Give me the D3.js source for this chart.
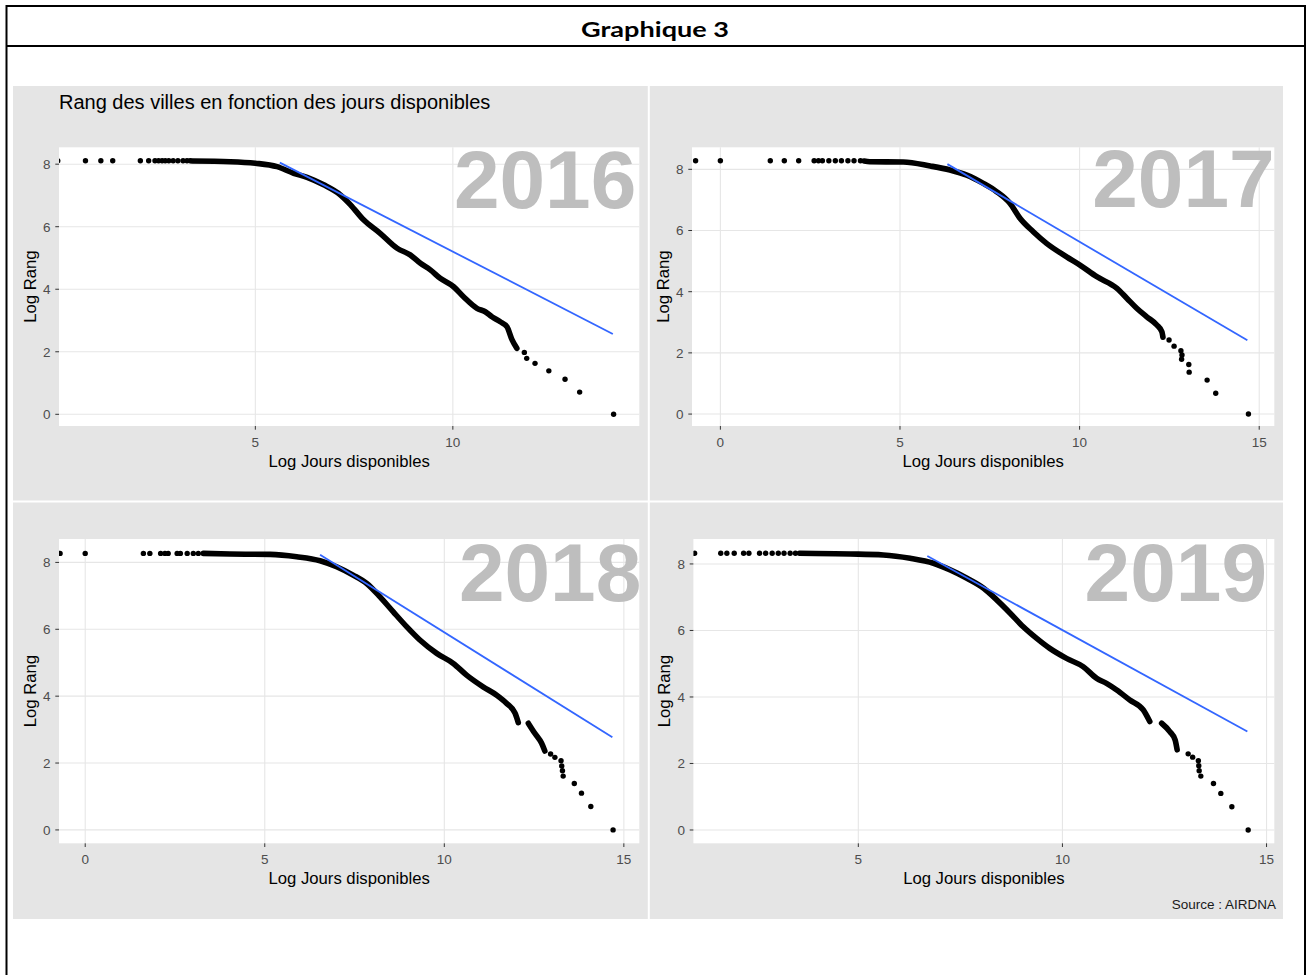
<!DOCTYPE html>
<html><head><meta charset="utf-8">
<script src="https://cdn.jsdelivr.net/npm/d3@7"></script>
<style>body{margin:0;background:#fff}svg{display:block}</style>
</head><body>
<svg id="c" width="1309" height="975"></svg>
<script>
// ---------- DATA ----------
const years = ["2016", "2017", "2018", "2019"];
const yTicks = [0, 2, 4, 6, 8];
const xTicks = [0, 5, 10, 15];
const flatLevel = [8.11, 8.28, 8.27, 8.32];   // log(number of cities)

// isolated points on the left (all at flat level)
const left2016X = [0.0, 0.70, 1.09, 1.39, 2.09, 2.30, 2.46, 2.55, 2.64, 2.72, 2.81, 2.92, 3.04, 3.17, 3.27, 3.35];
const left2017X = [-0.69, 0.0, 1.39, 1.78, 2.18, 2.61, 2.73, 2.84, 3.02, 3.20, 3.37, 3.55, 3.72, 3.90];
const left2018X = [-0.70, 0.0, 1.62, 1.80, 2.10, 2.22, 2.31, 2.56, 2.65, 2.84, 3.01, 3.15];
const left2019X = [0.99, 1.63, 1.78, 1.96, 2.19, 2.32, 2.58, 2.73, 2.89, 3.04, 3.18, 3.33, 3.46];

// dense body of the point cloud
const dense2016X = [3.40, 4.37, 5.00, 5.55, 5.97, 6.31, 6.73, 7.15, 7.41, 7.74, 8.16, 8.59, 8.92, 9.18, 9.43, 9.68, 10.02, 10.27, 10.61, 10.82, 10.99, 11.20, 11.37, 11.50, 11.62];
const dense2016Y = [8.10, 8.08, 8.03, 7.92, 7.71, 7.58, 7.34, 7.02, 6.70, 6.22, 5.79, 5.31, 5.10, 4.83, 4.62, 4.35, 4.08, 3.76, 3.39, 3.28, 3.12, 2.96, 2.80, 2.38, 2.11];
const dense2017X = [4.00, 4.16, 5.09, 5.84, 6.39, 6.86, 7.32, 7.69, 8.06, 8.34, 8.71, 9.08, 9.64, 10.01, 10.48, 11.04, 11.32, 11.59, 11.87, 12.15, 12.29, 12.32];
const dense2017Y = [8.27, 8.25, 8.24, 8.11, 7.98, 7.81, 7.54, 7.27, 6.89, 6.40, 5.96, 5.58, 5.14, 4.87, 4.49, 4.11, 3.78, 3.46, 3.18, 2.91, 2.69, 2.51];
const dense2018X = [3.29, 4.03, 5.15, 5.89, 6.54, 7.00, 7.46, 7.84, 8.21, 8.58, 8.95, 9.32, 9.79, 10.25, 10.62, 11.08, 11.46, 11.73, 11.97, 12.06];
const dense2018Y = [8.27, 8.25, 8.24, 8.17, 8.05, 7.87, 7.62, 7.37, 6.97, 6.52, 6.08, 5.68, 5.28, 4.98, 4.63, 4.28, 4.03, 3.79, 3.49, 3.21];
const dense2018bX = [12.34, 12.52, 12.71, 12.80];
const dense2018bY = [3.19, 2.89, 2.59, 2.36];
const dense2019X = [3.56, 4.80, 5.61, 6.27, 6.84, 7.25, 7.66, 8.07, 8.39, 8.72, 9.04, 9.37, 9.69, 10.10, 10.51, 10.84, 11.08, 11.33, 11.65, 11.98, 12.14];
const dense2019Y = [8.32, 8.30, 8.27, 8.17, 8.02, 7.82, 7.57, 7.27, 6.92, 6.52, 6.11, 5.76, 5.46, 5.16, 4.91, 4.56, 4.41, 4.21, 3.91, 3.61, 3.26];
const dense2019bX = [12.43, 12.63, 12.76, 12.81];
const dense2019bY = [3.21, 2.96, 2.71, 2.41];

// isolated points on the right (top-ranked cities)
const tail2016X = [11.81, 11.87, 12.08, 12.43, 12.84, 13.21, 14.07];
const tail2016Y = [1.98, 1.79, 1.63, 1.39, 1.12, 0.71, 0.00];
const tail2017X = [12.49, 12.63, 12.82, 12.85, 12.84, 13.04, 13.05, 13.55, 13.79, 14.70];
const tail2017Y = [2.42, 2.22, 2.07, 1.93, 1.79, 1.62, 1.37, 1.11, 0.68, 0.00];
const tail2018X = [12.96, 13.08, 13.25, 13.27, 13.29, 13.31, 13.62, 13.82, 14.08, 14.70];
const tail2018Y = [2.27, 2.17, 2.07, 1.91, 1.77, 1.61, 1.39, 1.10, 0.70, 0.00];
const tail2019X = [13.08, 13.19, 13.33, 13.34, 13.35, 13.39, 13.70, 13.88, 14.15, 14.55];
const tail2019Y = [2.29, 2.19, 2.08, 1.93, 1.78, 1.62, 1.40, 1.10, 0.70, 0.00];

// fitted regression lines (blue)
const fit2016X = [5.62, 14.05], fit2016Y = [8.05, 2.57];
const fit2017X = [6.32, 14.67], fit2017Y = [8.17, 2.41];
const fit2018X = [6.54, 14.68], fit2018Y = [8.23, 2.77];
const fit2019X = [6.69, 14.53], fit2019Y = [8.24, 2.96];

// axis ranges of each panel
const xDomains = [[0.03, 14.72], [-0.79, 15.42], [-0.73, 15.43], [0.96, 15.19]];
const yDomains = [[-0.374, 8.54], [-0.39, 8.72], [-0.40, 8.70], [-0.40, 8.75]];

const chartTitle = "Rang des villes en fonction des jours disponibles";
const xTitle = "Log Jours disponibles";
const yTitle = "Log Rang";
const frameTitle = "Graphique 3";
const sourceText = "Source : AIRDNA";

// ---------- LAYOUT ----------
const boxes = [
  {x0: 59, x1: 639.3, y0: 147.3, y1: 426, yearRight: 636.3, yearBase: 207.5},
  {x0: 692, x1: 1274.3, y0: 147.3, y1: 426, yearRight: 1274.7, yearBase: 206.7},
  {x0: 59, x1: 639.3, y0: 539, y1: 843.3, yearRight: 641.3, yearBase: 601.2},
  {x0: 693.4, x1: 1274.3, y0: 539, y1: 843.3, yearRight: 1267, yearBase: 600.8}
];

const panels = [
  {leftX: left2016X, dense: [[dense2016X, dense2016Y]], tailX: tail2016X, tailY: tail2016Y, fitX: fit2016X, fitY: fit2016Y},
  {leftX: left2017X, dense: [[dense2017X, dense2017Y]], tailX: tail2017X, tailY: tail2017Y, fitX: fit2017X, fitY: fit2017Y},
  {leftX: left2018X, dense: [[dense2018X, dense2018Y], [dense2018bX, dense2018bY]], tailX: tail2018X, tailY: tail2018Y, fitX: fit2018X, fitY: fit2018Y},
  {leftX: left2019X, dense: [[dense2019X, dense2019Y], [dense2019bX, dense2019bY]], tailX: tail2019X, tailY: tail2019Y, fitX: fit2019X, fitY: fit2019Y}
];

const FONT = "'Liberation Sans', Arial, Helvetica, sans-serif";
const svg = d3.select("#c");

// frame
svg.append("rect").attr("x", 0).attr("y", 0).attr("width", 1309).attr("height", 975).attr("fill", "#fff");
svg.append("rect").attr("x", 13).attr("y", 86).attr("width", 1270).attr("height", 833).attr("fill", "#e5e5e5");
svg.append("line").attr("x1", 648.8).attr("x2", 648.8).attr("y1", 86).attr("y2", 919).attr("stroke", "#fff").attr("stroke-width", 2);
svg.append("line").attr("x1", 13).attr("x2", 1283).attr("y1", 501.5).attr("y2", 501.5).attr("stroke", "#fff").attr("stroke-width", 2);

svg.append("rect").attr("x", 6.5).attr("y", 6).attr("width", 1298.5).attr("height", 1100)
  .attr("fill", "none").attr("stroke", "#000").attr("stroke-width", 2);
svg.append("line").attr("x1", 6.5).attr("x2", 1305).attr("y1", 46).attr("y2", 46).attr("stroke", "#000").attr("stroke-width", 2);
svg.append("text").attr("x", 655).attr("y", 37).attr("text-anchor", "middle")
  .attr("font-family", "Lato, 'Open Sans', sans-serif").attr("font-weight", 700).attr("font-size", 21)
  .attr("textLength", 148).attr("lengthAdjust", "spacingAndGlyphs").text(frameTitle);

// chart title
svg.append("text").attr("x", 59).attr("y", 109).attr("font-family", FONT).attr("font-size", 20)
  .attr("fill", "#000").text(chartTitle);

// source
svg.append("text").attr("x", 1276).attr("y", 908.5).attr("text-anchor", "end").attr("font-family", FONT)
  .attr("font-size", 13.5).attr("fill", "#1a1a1a").text(sourceText);

panels.forEach((p, i) => {
  const b = boxes[i];
  const xs = d3.scaleLinear().domain(xDomains[i]).range([b.x0, b.x1]);
  const ys = d3.scaleLinear().domain(yDomains[i]).range([b.y1, b.y0]);
  const g = svg.append("g");
  const clipId = "clip" + i;
  svg.append("clipPath").attr("id", clipId).append("rect")
    .attr("x", b.x0).attr("y", b.y0).attr("width", b.x1 - b.x0).attr("height", b.y1 - b.y0);

  g.append("rect").attr("x", b.x0).attr("y", b.y0).attr("width", b.x1 - b.x0).attr("height", b.y1 - b.y0).attr("fill", "#fff");

  const xt = xTicks.filter(t => t >= xDomains[i][0] && t <= xDomains[i][1]);
  const yt = yTicks;

  // grid
  g.selectAll(".gx").data(xt).join("line")
    .attr("x1", d => xs(d)).attr("x2", d => xs(d)).attr("y1", b.y0).attr("y2", b.y1)
    .attr("stroke", "#e6e6e6").attr("stroke-width", 1.1);
  g.selectAll(".gy").data(yt).join("line")
    .attr("x1", b.x0).attr("x2", b.x1).attr("y1", d => ys(d)).attr("y2", d => ys(d))
    .attr("stroke", "#e6e6e6").attr("stroke-width", 1.1);

  // ticks
  g.selectAll(".tx").data(xt).join("line")
    .attr("x1", d => xs(d)).attr("x2", d => xs(d)).attr("y1", b.y1).attr("y2", b.y1 + 3.7)
    .attr("stroke", "#333").attr("stroke-width", 1);
  g.selectAll(".ty").data(yt).join("line")
    .attr("x1", b.x0 - 3.7).attr("x2", b.x0).attr("y1", d => ys(d)).attr("y2", d => ys(d))
    .attr("stroke", "#333").attr("stroke-width", 1);

  g.selectAll(".lx").data(xt).join("text")
    .attr("x", d => xs(d)).attr("y", b.y1 + 20.5).attr("text-anchor", "middle")
    .attr("font-family", FONT).attr("font-size", 13.5).attr("fill", "#4d4d4d").text(d => d);
  g.selectAll(".ly").data(yt).join("text")
    .attr("x", b.x0 - 8.5).attr("y", d => ys(d)).attr("dy", "0.36em").attr("text-anchor", "end")
    .attr("font-family", FONT).attr("font-size", 13.5).attr("fill", "#4d4d4d").text(d => d);

  // axis titles
  g.append("text").attr("x", (b.x0 + b.x1) / 2).attr("y", b.y1 + 40.5).attr("text-anchor", "middle")
    .attr("font-family", FONT).attr("font-size", 16.7).attr("fill", "#000").text(xTitle);
  g.append("text").attr("transform", `translate(${b.x0 - 23.5},${(b.y0 + b.y1) / 2}) rotate(-90)`)
    .attr("text-anchor", "middle").attr("font-family", FONT).attr("font-size", 16.7).attr("fill", "#000").text(yTitle);

  const inner = g.append("g").attr("clip-path", `url(#${clipId})`);

  // year label
  inner.append("text").attr("x", boxes[i].yearRight).attr("y", boxes[i].yearBase).attr("text-anchor", "end")
    .attr("font-family", FONT).attr("font-weight", 700).attr("font-size", 82).attr("fill", "#bebebe").text(years[i]);

  // dense body
  const line = d3.line().x(d => xs(d[0])).y(d => ys(d[1])).curve(d3.curveMonotoneX);
  p.dense.forEach(([dx, dy]) => {
    inner.append("path").datum(dx.map((v, k) => [v, dy[k]])).attr("d", line)
      .attr("fill", "none").attr("stroke", "#000").attr("stroke-width", 5.6)
      .attr("stroke-linecap", "round").attr("stroke-linejoin", "round");
  });

  // isolated points
  inner.selectAll(".pl").data(p.leftX).join("circle")
    .attr("cx", d => xs(d)).attr("cy", ys(flatLevel[i])).attr("r", 2.7).attr("fill", "#000");
  inner.selectAll(".pt").data(p.tailX.map((v, k) => [v, p.tailY[k]])).join("circle")
    .attr("cx", d => xs(d[0])).attr("cy", d => ys(d[1])).attr("r", 2.7).attr("fill", "#000");

  // fitted line
  inner.append("path").datum(p.fitX.map((v, k) => [v, p.fitY[k]]))
    .attr("d", d3.line().x(d => xs(d[0])).y(d => ys(d[1])))
    .attr("fill", "none").attr("stroke", "#3366ff").attr("stroke-width", 1.8);
});
</script>
</body></html>
